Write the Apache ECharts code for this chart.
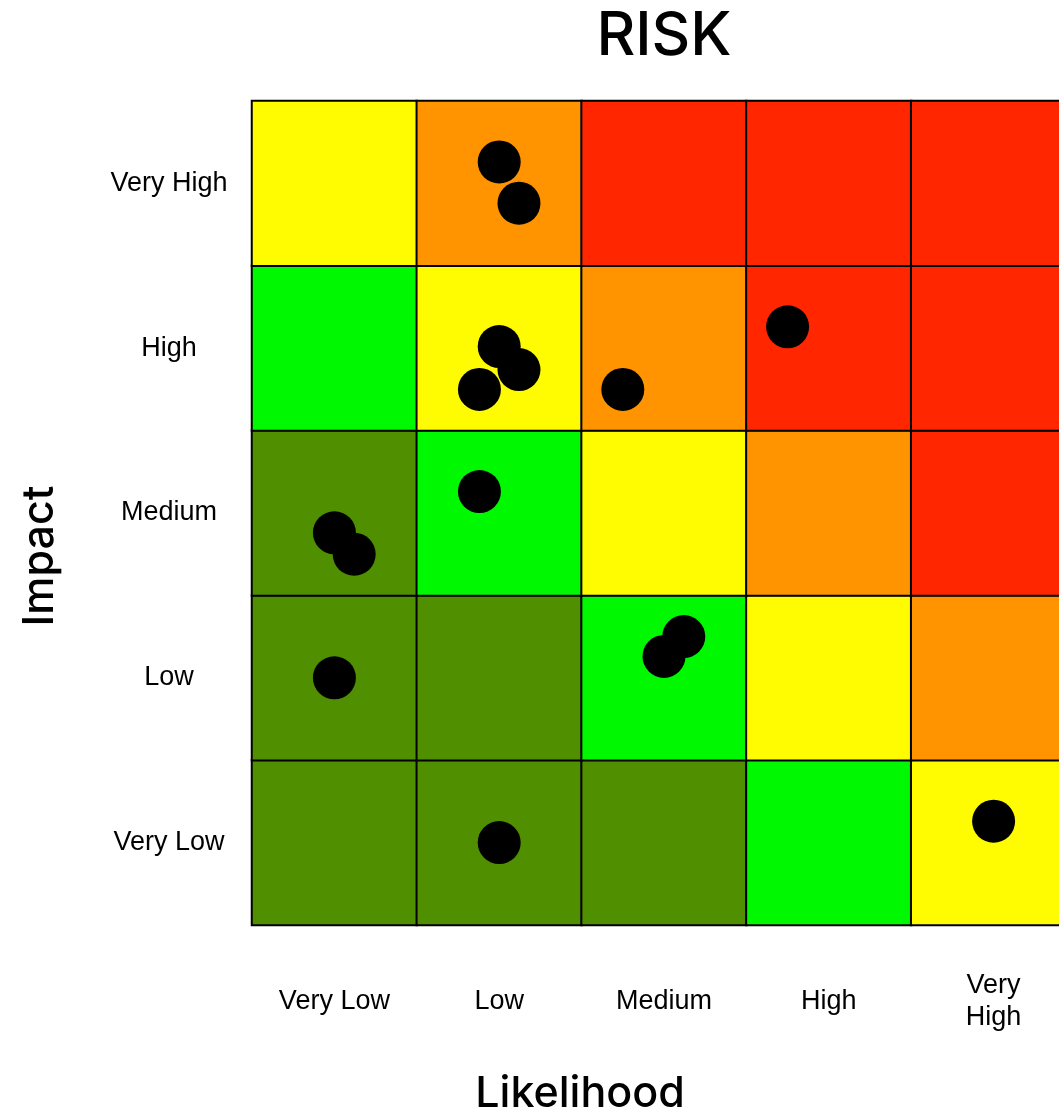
<!DOCTYPE html>
<html>
<head>
<meta charset="utf-8">
<script src="https://cdn.jsdelivr.net/npm/echarts@6/dist/echarts.min.js"></script>
<style>
  html, body { margin: 0; padding: 0; background: #ffffff; }
  #chart { width: 1059px; height: 1116px; }
</style>
</head>
<body>
<div id="chart"></div>
<script>
// Axis categories (bottom to top for impact)
const likelihoodLabels = ['Very Low', 'Low', 'Medium', 'High', 'Very\nHigh'];
const impactLabels = ['Very Low', 'Low', 'Medium', 'High', 'Very High'];

// Risk level per cell: 0 = very low ... 4 = very high
// rows listed from Very Low impact (bottom) to Very High impact (top)
const riskLevels = [
  [0, 0, 0, 1, 2],
  [0, 0, 1, 2, 3],
  [0, 1, 2, 3, 4],
  [1, 2, 3, 4, 4],
  [2, 3, 4, 4, 4]
];
const levelColors = ['#4F8F00', '#00F900', '#FFFB00', '#FF9300', '#FF2600'];

// Individual risks placed in the matrix (continuous likelihood / impact, 0..5)
const riskX = [1.50, 1.62, 3.25, 1.50, 1.62, 1.38, 2.25, 1.38, 0.50, 0.62, 2.62, 2.50, 0.50, 1.50, 4.50];
const riskY = [4.63, 4.38, 3.63, 3.51, 3.37, 3.25, 3.25, 2.63, 2.38, 2.25, 1.75, 1.63, 1.50, 0.50, 0.63];

const cellData = [];
riskLevels.forEach((row, yi) => row.forEach((lvl, xi) => cellData.push([xi, yi, lvl])));
const points = riskX.map((x, i) => [x, riskY[i]]);

const labelFont = '"Liberation Sans", Arial, sans-serif';
const titleFont = 'Inter, "Noto Sans", sans-serif';

const chart = echarts.init(document.getElementById('chart'));
chart.setOption({
  animation: false,
  backgroundColor: '#ffffff',
  grid: {
    left: 252, top: 101, width: 824, height: 824,
    containLabel: false, outerBoundsMode: 'none'
  },
  xAxis: [
    {
      type: 'category', data: likelihoodLabels, boundaryGap: true,
      axisLine: { show: false }, axisTick: { show: false }, splitLine: { show: false },
      axisLabel: {
        margin: 77, verticalAlign: 'middle', align: 'center',
        color: '#000', fontSize: 27, lineHeight: 32, fontFamily: labelFont
      }
    },
    { type: 'value', min: 0, max: 5, show: false }
  ],
  yAxis: [
    {
      type: 'category', data: impactLabels, boundaryGap: true,
      axisLine: { show: false }, axisTick: { show: false }, splitLine: { show: false },
      axisLabel: {
        margin: 83, align: 'center', verticalAlign: 'middle',
        color: '#000', fontSize: 27, fontFamily: labelFont
      }
    },
    { type: 'value', min: 0, max: 5, show: false }
  ],
  visualMap: {
    show: false, type: 'piecewise', dimension: 2, seriesIndex: 0,
    pieces: levelColors.map((c, i) => ({ value: i, color: c }))
  },
  graphic: [
    {
      type: 'text', x: 664, y: 37,
      style: {
        text: 'RISK', fill: '#000', font: '500 60px ' + titleFont,
        textAlign: 'center', textVerticalAlign: 'middle'
      }
    },
    {
      type: 'text', x: 580, y: 1094,
      style: {
        text: 'Likelihood', fill: '#000', font: '500 43px ' + titleFont,
        textAlign: 'center', textVerticalAlign: 'middle'
      }
    },
    {
      type: 'text', x: 40, y: 556, rotation: Math.PI / 2,
      style: {
        text: 'Impact', fill: '#000', font: '500 43px ' + titleFont,
        textAlign: 'center', textVerticalAlign: 'middle'
      }
    }
  ],
  series: [
    {
      type: 'heatmap',
      xAxisIndex: 0, yAxisIndex: 0,
      data: cellData,
      itemStyle: { borderColor: '#000', borderWidth: 2 },
      emphasis: { disabled: true },
      z: 1
    },
    {
      type: 'scatter',
      xAxisIndex: 1, yAxisIndex: 1,
      data: points,
      symbol: 'circle', symbolSize: 43,
      itemStyle: { color: '#000', opacity: 1 },
      emphasis: { disabled: true },
      z: 3
    }
  ]
});
</script>
</body>
</html>
